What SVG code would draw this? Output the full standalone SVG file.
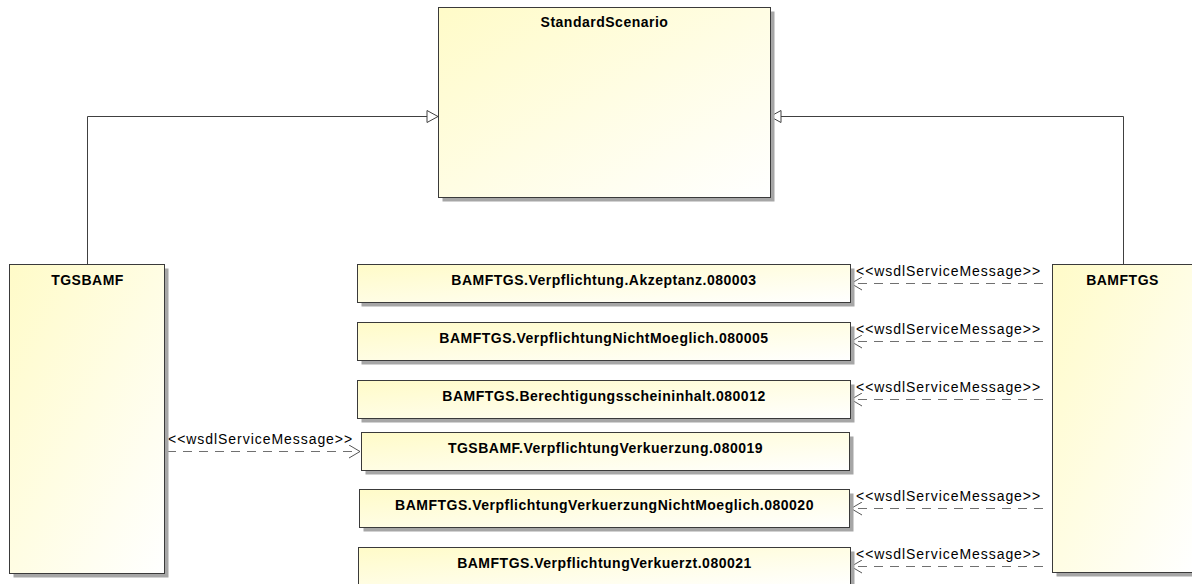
<svg xmlns="http://www.w3.org/2000/svg" width="1192" height="584" viewBox="0 0 1192 584">
<style>
.box{fill:url(#g);stroke:#3a3a3a;stroke-width:1}
.sh{fill:#a6a6a6}
.t{font-family:"Liberation Sans",Arial,sans-serif;font-weight:bold;font-size:14px;letter-spacing:0.5px;fill:#000;text-anchor:middle}
.lbl{font-family:"Liberation Sans",Arial,sans-serif;font-size:14px;letter-spacing:0.95px;fill:#000}
.gen{fill:none;stroke:#404040;stroke-width:1}
.dep{fill:none;stroke:#707070;stroke-width:1;stroke-dasharray:9 7}
</style>
<defs>
<linearGradient id="g" x1="0" y1="0" x2="1" y2="1">
<stop offset="0" stop-color="#fffbc8"/>
<stop offset="1" stop-color="#ffffff"/>
</linearGradient>
<marker id="tri" markerWidth="14" markerHeight="14" refX="12" refY="7" orient="auto" markerUnits="userSpaceOnUse">
<path d="M1,1 L12,7 L1,13 Z" fill="#fff" stroke="#404040" stroke-width="1"/>
</marker>
<marker id="open" markerWidth="14" markerHeight="14" refX="12" refY="7" orient="auto" markerUnits="userSpaceOnUse">
<path d="M1,0.5 L12,7 L1,13.5" fill="none" stroke="#555" stroke-width="1"/>
</marker>
</defs>
<rect width="1192" height="584" fill="#fff"/>

<g id="connectors">
<path class="gen" d="M87.5,264 V116.5 H438" marker-end="url(#tri)"/>
<path class="gen" d="M1123.5,264 V116.5 H770" marker-end="url(#tri)"/>
<path class="dep" d="M1043,283.5 H851" marker-end="url(#open)"/>
<text class="lbl" x="856" y="276">&lt;&lt;wsdlServiceMessage&gt;&gt;</text>
<path class="dep" d="M1043,341.5 H851" marker-end="url(#open)"/>
<text class="lbl" x="856" y="334">&lt;&lt;wsdlServiceMessage&gt;&gt;</text>
<path class="dep" d="M1043,399.5 H851" marker-end="url(#open)"/>
<text class="lbl" x="856" y="392">&lt;&lt;wsdlServiceMessage&gt;&gt;</text>
<path class="dep" d="M167,451.5 H360" marker-end="url(#open)"/>
<text class="lbl" x="168" y="444">&lt;&lt;wsdlServiceMessage&gt;&gt;</text>
<path class="dep" d="M1043,508.5 H851" marker-end="url(#open)"/>
<text class="lbl" x="856" y="501">&lt;&lt;wsdlServiceMessage&gt;&gt;</text>
<path class="dep" d="M1043,566.5 H851" marker-end="url(#open)"/>
<text class="lbl" x="856" y="559">&lt;&lt;wsdlServiceMessage&gt;&gt;</text>
</g>

<g id="StandardScenario">
<rect class="sh" x="442.5" y="11.5" width="332" height="190"/>
<rect class="box" x="438.5" y="7.5" width="332" height="190"/>
<text class="t" x="604.5" y="27">StandardScenario</text>
</g>

<g id="TGSBAMF">
<rect class="sh" x="13.5" y="268.5" width="155" height="309"/>
<rect class="box" x="9.5" y="264.5" width="155" height="309"/>
<text class="t" x="87.5" y="285">TGSBAMF</text>
</g>

<g id="BAMFTGS">
<rect class="sh" x="1056.5" y="268.5" width="140" height="308"/>
<rect class="box" x="1052.5" y="264.5" width="140" height="308"/>
<text class="t" x="1122.5" y="285">BAMFTGS</text>
</g>

<g id="msg080003">
<rect class="sh" x="361.5" y="268.5" width="493" height="38"/>
<rect class="box" x="357.5" y="264.5" width="493" height="38"/>
<text class="t" x="604" y="285">BAMFTGS.Verpflichtung.Akzeptanz.080003</text>
</g>

<g id="msg080005">
<rect class="sh" x="361.5" y="326.5" width="493" height="38"/>
<rect class="box" x="357.5" y="322.5" width="493" height="38"/>
<text class="t" x="604" y="343">BAMFTGS.VerpflichtungNichtMoeglich.080005</text>
</g>

<g id="msg080012">
<rect class="sh" x="361.5" y="384.5" width="493" height="38"/>
<rect class="box" x="357.5" y="380.5" width="493" height="38"/>
<text class="t" x="604" y="401">BAMFTGS.Berechtigungsscheininhalt.080012</text>
</g>

<g id="msg080019">
<rect class="sh" x="365.5" y="436.5" width="488" height="38"/>
<rect class="box" x="361.5" y="432.5" width="488" height="38"/>
<text class="t" x="605.5" y="453">TGSBAMF.VerpflichtungVerkuerzung.080019</text>
</g>

<g id="msg080020">
<rect class="sh" x="363.5" y="493.5" width="490" height="38"/>
<rect class="box" x="359.5" y="489.5" width="490" height="38"/>
<text class="t" x="604.5" y="510">BAMFTGS.VerpflichtungVerkuerzungNichtMoeglich.080020</text>
</g>

<g id="msg080021">
<rect class="sh" x="362.5" y="551.5" width="492" height="38"/>
<rect class="box" x="358.5" y="547.5" width="492" height="38"/>
<text class="t" x="604.5" y="568">BAMFTGS.VerpflichtungVerkuerzt.080021</text>
</g>
</svg>
